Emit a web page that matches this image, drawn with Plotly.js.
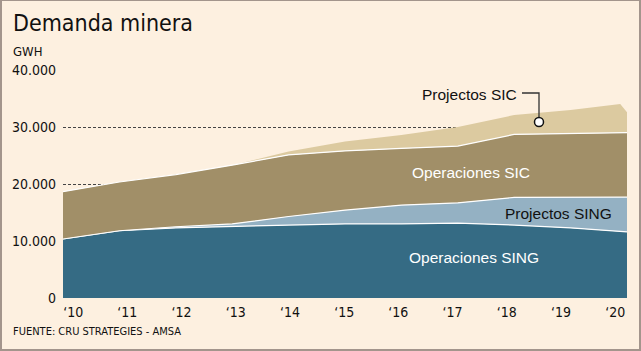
<!DOCTYPE html>
<html>
<head>
<meta charset="utf-8">
<script src="https://cdn.plot.ly/plotly-3.0.1.min.js"></script>
<style>
  html, body { margin: 0; padding: 0; background: #fdf0e0; }
  #wrap { position: relative; width: 641px; height: 351px; }
  #chart { width: 641px; height: 351px; }
  #frame { position: absolute; left: 0; top: 0; width: 641px; height: 351px; box-sizing: border-box;
           border: 2px solid #a3958c; border-top-width: 1px; pointer-events: none; }
</style>
</head>
<body>
<div id="wrap"><div id="chart"></div><div id="frame"></div></div>
<script>
// ---- data (GWh) ----
const years = [2010, 2011, 2012, 2013, 2014, 2015, 2016, 2017, 2018, 2019, 2019.88, 2020];
const operacionesSING = [10350, 11800, 12300, 12600, 12800, 13000, 13000, 13150, 12800, 12300, 11700, 11600];
const projectosSING   = [0, 0, 200, 400, 1500, 2400, 3300, 3550, 4850, 5350, 6000, 6100];
const operacionesSIC  = [8300, 8550, 9150, 10300, 10800, 10400, 9950, 9950, 11050, 11200, 11300, 11300];
const projectosSIC    = [0, 0, 0, 0, 600, 1650, 2350, 3350, 3400, 4150, 5050, 3600];
const yearLabels = ['\u201810', '\u201811', '\u201812', '\u201813', '\u201814', '\u201815', '\u201816', '\u201817', '\u201818', '\u201819', '\u201820'];
const yTicks = [0, 10000, 20000, 30000, 40000];

// ---- layout helpers (pixel -> paper) ----
const L = 63, R = 627, T = 70, B = 298;
const px = x => (x - L) / (R - L);
const py = y => (B - y) / (B - T);

const cond = 'DejaVu Sans Condensed, DejaVu Sans, sans-serif';
const lab = 'Liberation Sans, Arial, sans-serif';

function area(name, y, color, lw) {
  return {
    type: 'scatter', mode: 'lines', name: name, x: years, y: y,
    stackgroup: 'one', fillcolor: color,
    line: { color: lw ? '#ffffff' : color, width: lw || 0, shape: 'linear' },
    hoverinfo: 'skip'
  };
}

const data = [
  area('Operaciones SING', operacionesSING, '#356b84', 1.2),
  area('Projectos SING', projectosSING, '#94b1c3', 1.2),
  area('Operaciones SIC', operacionesSIC, '#a18f68', 1.2),
  area('Projectos SIC', projectosSIC, '#dccaa0', 0)
];

const tickPos = yearLabels.map((_, i) => 2010.18 + i * 0.961);

const layout = {
  width: 641, height: 351,
  paper_bgcolor: '#fdf0e0', plot_bgcolor: '#fdf0e0',
  margin: { l: L, r: 641 - R, t: T, b: 351 - B, pad: 0 },
  showlegend: false,
  separators: ',.',
  xaxis: {
    range: [2010, 2020], showgrid: false, zeroline: false, showline: false,
    tickmode: 'array', tickvals: tickPos, ticktext: yearLabels, ticks: '',
    tickfont: { family: cond, size: 14, color: '#111' }, ticklabelstandoff: 4,
    fixedrange: true
  },
  yaxis: {
    range: [0, 40000], tickmode: 'array', tickvals: yTicks, tickformat: ',d',
    showgrid: true, gridcolor: '#444', gridwidth: 1, griddash: '3px,2px',
    zeroline: false, showline: false, ticks: '',
    tickfont: { family: cond, size: 14, color: '#111' }, ticklabelstandoff: 6,
    fixedrange: true
  },
  annotations: [
    { text: 'Demanda minera', xref: 'paper', yref: 'paper', x: px(11), y: py(23), xanchor: 'left', yanchor: 'middle',
      showarrow: false, font: { family: cond, size: 23, color: '#111' } },
    { text: 'GWH', xref: 'paper', yref: 'paper', x: px(11), y: py(51), xanchor: 'left', yanchor: 'middle',
      showarrow: false, font: { family: cond, size: 13, color: '#111' } },
    { text: 'FUENTE: CRU STRATEGIES - AMSA', xref: 'paper', yref: 'paper', x: px(11), y: py(331), xanchor: 'left', yanchor: 'middle',
      showarrow: false, font: { family: cond, size: 11, color: '#111' } },
    { text: 'Projectos SIC', xref: 'paper', yref: 'paper', x: px(519), y: py(94), xanchor: 'right', yanchor: 'middle',
      showarrow: false, font: { family: lab, size: 15.5, color: '#111' } },
    { text: 'Operaciones SIC', xref: 'paper', yref: 'paper', x: px(471), y: py(172), xanchor: 'center', yanchor: 'middle',
      showarrow: false, font: { family: lab, size: 15.5, color: '#ffffff' } },
    { text: 'Projectos SING', xref: 'paper', yref: 'paper', x: px(614), y: py(213), xanchor: 'right', yanchor: 'middle',
      showarrow: false, font: { family: lab, size: 15.5, color: '#111' } },
    { text: 'Operaciones SING', xref: 'paper', yref: 'paper', x: px(474), y: py(257), xanchor: 'center', yanchor: 'middle',
      showarrow: false, font: { family: lab, size: 15.5, color: '#ffffff' } }
  ],
  shapes: [
    { type: 'path', xref: 'paper', yref: 'paper',
      path: 'M ' + px(522) + ' ' + py(93) + ' L ' + px(539) + ' ' + py(93) + ' L ' + px(539) + ' ' + py(118),
      line: { color: '#333', width: 1.3 } },
    { type: 'circle', xref: 'paper', yref: 'paper', xsizemode: 'pixel', ysizemode: 'pixel',
      xanchor: px(539), yanchor: py(122), x0: -4.5, x1: 4.5, y0: -4.5, y1: 4.5,
      fillcolor: '#ffffff', line: { color: '#111', width: 1.5 } }
  ]
};

Plotly.newPlot('chart', data, layout, { displayModeBar: false, staticPlot: true });
</script>
</body>
</html>
